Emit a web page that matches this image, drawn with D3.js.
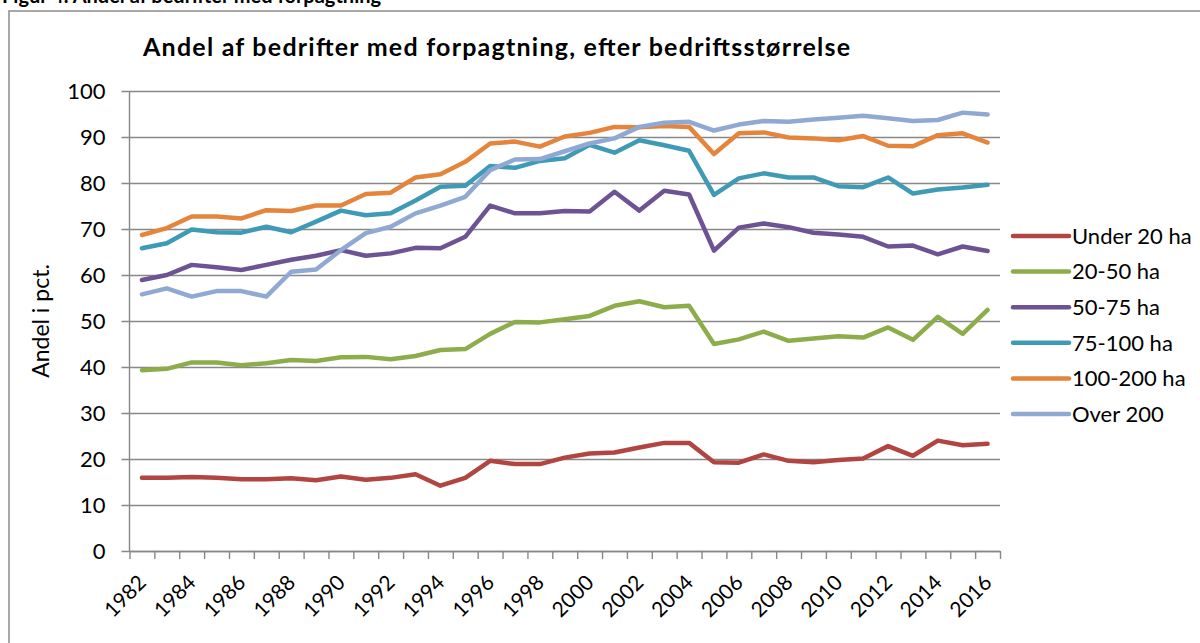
<!doctype html>
<html lang="da">
<head>
<meta charset="utf-8">
<title>Andel af bedrifter med forpagtning</title>
<script src="https://d3js.org/d3.v7.min.js"></script>
<style>
  html, body { margin: 0; padding: 0; background: #fff; }
  svg { display: block; font-family: Lato, "Open Sans", sans-serif; }
</style>
</head>
<body>
<div id="chart"></div>
<script>
// data
var years = [1982,1983,1984,1985,1986,1987,1988,1989,1990,1991,1992,1993,1994,1995,1996,1997,1998,1999,
             2000,2001,2002,2003,2004,2005,2006,2007,2008,2009,2010,2011,2012,2013,2014,2015,2016];
var yTicks = [0,10,20,30,40,50,60,70,80,90,100];
var xLabels = [1982,1984,1986,1988,1990,1992,1994,1996,1998,2000,2002,2004,2006,2008,2010,2012,2014,2016];

var under20 = [15.9,15.9,16.1,15.9,15.6,15.6,15.8,15.4,16.2,15.5,15.9,16.7,14.2,15.9,19.6,18.9,18.9,20.3,
               21.2,21.4,22.5,23.5,23.5,19.3,19.2,21.0,19.6,19.3,19.8,20.1,22.8,20.7,24.0,23.0,23.3];
var ha20_50 = [39.3,39.6,41.0,41.0,40.4,40.8,41.5,41.3,42.1,42.2,41.7,42.4,43.7,43.9,47.2,49.8,49.7,50.4,
               51.1,53.3,54.3,53.0,53.3,45.0,46.0,47.7,45.7,46.2,46.7,46.4,48.6,45.9,50.9,47.2,52.4];
var ha50_75 = [58.9,60.0,62.2,61.7,61.1,62.2,63.3,64.2,65.4,64.2,64.7,65.9,65.8,68.3,75.1,73.4,73.4,73.9,
               73.8,78.1,74.0,78.3,77.5,65.3,70.3,71.2,70.4,69.2,68.8,68.3,66.2,66.4,64.5,66.2,65.2];
var ha75_100 = [65.8,66.9,69.9,69.3,69.2,70.5,69.3,71.6,74.0,73.0,73.4,76.2,79.2,79.4,83.7,83.3,84.8,85.4,
                88.3,86.6,89.3,88.2,87.0,77.4,81.0,82.1,81.2,81.2,79.3,79.1,81.2,77.7,78.6,79.0,79.6];
var ha100_200 = [68.7,70.2,72.7,72.7,72.3,74.1,73.9,75.1,75.1,77.6,77.9,81.2,81.9,84.6,88.6,89.0,87.9,90.1,
                 90.9,92.2,92.1,92.4,92.2,86.3,90.8,91.0,89.9,89.7,89.3,90.2,88.1,88.0,90.4,90.8,88.8];
var over200 = [55.8,57.1,55.3,56.5,56.5,55.3,60.7,61.2,65.4,69.1,70.5,73.4,75.1,77.0,82.8,85.1,85.2,86.9,
               88.6,89.7,92.2,93.1,93.3,91.4,92.7,93.5,93.3,93.8,94.2,94.6,94.1,93.5,93.7,95.3,94.9];

var seriesNames = ["Under 20 ha","20-50 ha","50-75 ha","75-100 ha","100-200 ha","Over 200"];
var seriesValues = [under20, ha20_50, ha50_75, ha75_100, ha100_200, over200];
var colors = ["#B14542","#8DAD4B","#6E5394","#3F9BB5","#E5853B","#8FA9D3"];

var W = 1200, H = 643;
// plot box (plotTop, not "top": that one is window.top)
var plotLeft = 129.5, plotRight = 1000, plotTop = 91, plotBottom = 551;

var svg = d3.select("#chart").append("svg")
    .attr("width", W).attr("height", H);

svg.append("rect").attr("width", W).attr("height", H).attr("fill", "#fff");

// caption line above the frame, mostly cut off
svg.append("text")
    .attr("x", 2).attr("y", 3)
    .attr("font-size", 20).attr("font-weight", "bold")
    .attr("fill", "#000")
    .text("Figur 4. Andel af bedrifter med forpagtning");

// outer frame
svg.append("rect")
    .attr("x", 9).attr("y", 11)
    .attr("width", W + 20).attr("height", H + 20)
    .attr("fill", "#fff").attr("stroke", "#8c8c8c").attr("stroke-width", 1.5);

svg.append("text")
    .attr("x", 143).attr("y", 56)
    .attr("font-size", 25).attr("font-weight", "bold")
    .attr("textLength", 707).attr("lengthAdjust", "spacing")
    .text("Andel af bedrifter med forpagtning, efter bedriftsstørrelse");

var x = d3.scaleLinear().domain([1981.5, 2016.5]).range([plotLeft, plotRight]);
var y = d3.scaleLinear().domain([0, 100]).range([plotBottom, plotTop]);

// gridlines + y axis
var yAxis = svg.append("g")
    .attr("transform", "translate(" + plotLeft + ",0)")
    .call(d3.axisLeft(y).tickValues(yTicks).tickSize(-(plotRight - plotLeft)).tickPadding(24));
yAxis.select(".domain").remove();
yAxis.selectAll(".tick line")
    .attr("x1", -8)
    .attr("stroke", "#888").attr("stroke-width", 1.4);
yAxis.selectAll(".tick text")
    .attr("font-size", 22).attr("font-family", "Lato, sans-serif").attr("fill", "#000");
svg.append("line")
    .attr("x1", plotLeft).attr("x2", plotLeft).attr("y1", plotTop).attr("y2", plotBottom)
    .attr("stroke", "#888").attr("stroke-width", 1.4);

// x axis: ticks sit between the categories
var bounds = years.map(function(d) { return d - 0.5; }).concat([years[years.length - 1] + 0.5]);
var xAxis = svg.append("g")
    .attr("transform", "translate(0," + plotBottom + ")")
    .call(d3.axisBottom(x).tickValues(bounds).tickFormat("").tickSize(8).tickSizeOuter(0));
xAxis.select(".domain").attr("stroke", "#888").attr("stroke-width", 1.4);
xAxis.selectAll(".tick line").attr("stroke", "#888").attr("stroke-width", 1.4);

var xLab = svg.append("g")
    .attr("transform", "translate(0," + plotBottom + ")")
    .call(d3.axisBottom(x).tickValues(xLabels).tickFormat(d3.format("d")).tickSize(0));
xLab.select(".domain").remove();
xLab.selectAll(".tick text")
    .attr("font-size", 21).attr("font-family", "Lato, sans-serif").attr("fill", "#000")
    .attr("text-anchor", "end")
    .attr("dy", null)
    .attr("x", 5).attr("y", 33)
    .attr("transform", "rotate(-45 5 33)");

// y axis title
svg.append("text")
    .attr("transform", "translate(49,321) rotate(-90)")
    .attr("text-anchor", "middle")
    .attr("font-size", 23)
    .text("Andel i pct.");

// lines
var line = d3.line()
    .x(function(d, i) { return x(years[i]); })
    .y(function(d) { return y(d); });

svg.append("g").selectAll("path")
    .data(seriesValues)
    .join("path")
    .attr("d", line)
    .attr("fill", "none")
    .attr("stroke", function(d, i) { return colors[i]; })
    .attr("stroke-width", 4.5)
    .attr("stroke-linejoin", "round")
    .attr("stroke-linecap", "round");

// legend
var legend = svg.append("g").selectAll("g")
    .data(seriesNames)
    .join("g")
    .attr("transform", function(d, i) { return "translate(1013," + (236 + i * 35.6) + ")"; });
legend.append("line")
    .attr("x1", 0).attr("x2", 56)
    .attr("stroke", function(d, i) { return colors[i]; })
    .attr("stroke-width", 4.5).attr("stroke-linecap", "round");
legend.append("text")
    .attr("x", 59).attr("dy", "0.35em")
    .attr("font-size", 22)
    .text(function(d) { return d; });
</script>
</body>
</html>
